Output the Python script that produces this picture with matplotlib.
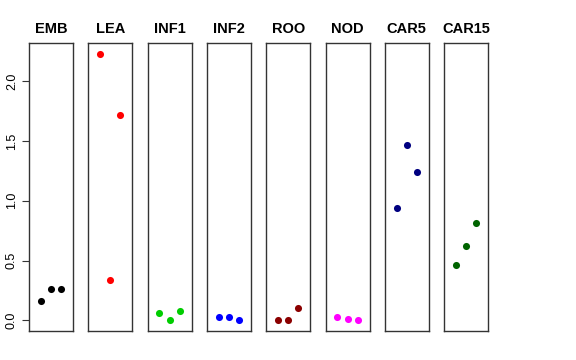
import matplotlib
matplotlib.use('Agg')
import matplotlib.pyplot as plt

plt.rcParams['font.family'] = ['Liberation Sans', 'DejaVu Sans']

tissues = ['EMB', 'LEA', 'INF1', 'INF2', 'ROO', 'NOD', 'CAR5', 'CAR15']
colors = ['black', 'red', '#00cd00', 'blue', '#8b0000', 'magenta', '#000080', '#006400']
emb = [0.165, 0.258, 0.258]
lea = [2.23, 0.34, 1.72]
inf1 = [0.061, 0.0, 0.078]
inf2 = [0.028, 0.028, 0.0]
roo = [0.0, 0.0, 0.106]
nod = [0.025, 0.008, 0.0]
car5 = [0.94, 1.47, 1.24]
car15 = [0.461, 0.62, 0.817]
values = [emb, lea, inf1, inf2, roo, nod, car5, car15]
reps = [1, 2, 3]
yticks = [0.0, 0.5, 1.0, 1.5, 2.0]

W, H = 576, 360
fig = plt.figure(figsize=(W / 100, H / 100), dpi=100)

ymax = max(max(v) for v in values)
ymin = min(min(v) for v in values)
ext = (ymax - ymin) * 0.04

left0, pw, step = 29, 44, 59.3
top, bottom = 43, 331
for i, (name, col, vals) in enumerate(zip(tissues, colors, values)):
    ax = fig.add_axes([(left0 + i * step) / W, 1 - bottom / H, pw / W, (bottom - top) / H])
    ax.scatter(reps, vals, s=26, color=col, zorder=3, linewidths=0)
    ax.set_xlim(-0.16, 4.16)
    ax.set_ylim(ymin - ext, ymax + ext)
    ax.set_xticks([])
    for sp in ax.spines.values():
        sp.set_color('#333333')
        sp.set_linewidth(1)
    ax.set_title(name, fontsize=10.5, fontweight='bold', pad=7)
    if i == 0:
        ax.set_yticks(yticks)
        ax.set_yticklabels(['%.1f' % t for t in yticks], rotation=90, va='center', fontsize=9)
        ax.tick_params(axis='y', length=5, width=0.8, pad=3, color='#333333')
    else:
        ax.set_yticks([])

fig.savefig('out.png', dpi=100)
